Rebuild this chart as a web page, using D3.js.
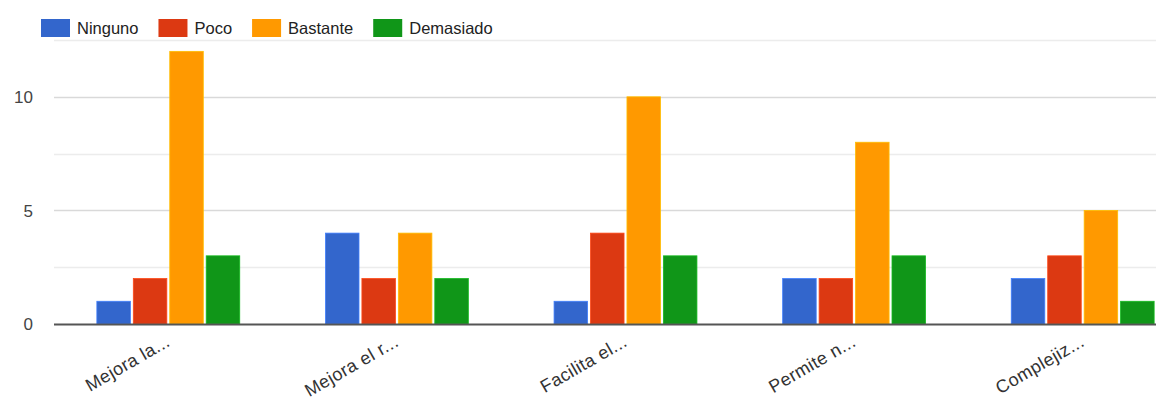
<!DOCTYPE html>
<html>
<head>
<meta charset="utf-8">
<script src="https://cdn.jsdelivr.net/npm/d3@7"></script>
<style>
  body { margin: 0; background: #fff; }
  svg { display: block; font-family: "Liberation Sans", Arial, sans-serif; }
</style>
</head>
<body>
<div id="chart"></div>
<script>
const categories = ["Mejora la...", "Mejora el r...", "Facilita el...", "Permite n...", "Complejiz..."]
const series = ["Ninguno", "Poco", "Bastante", "Demasiado"]
const ninguno = [1, 4, 1, 2, 2]
const poco = [2, 2, 4, 2, 3]
const bastante = [12, 4, 10, 8, 5]
const demasiado = [3, 2, 3, 3, 1]
const colors = ["#3366cc", "#dc3912", "#ff9900", "#109618"]
const yTicks = [0, 5, 10]
const gridTicks = [2.5, 7.5, 12.5]

const width = 1156
const height = 400
const marginTop = 40        // top of plot area
const marginBottom = 76     // space for slanted labels
const marginLeft = 54
const plotRight = 1197      // last band runs past the right edge

const values = [ninguno, poco, bastante, demasiado]
const data = []
categories.forEach((c, i) => {
    series.forEach((s, j) => data.push({cat: c, key: s, value: values[j][i], color: colors[j]}))
})

const svg = d3.select("#chart").append("svg")
    .attr("width", width)
    .attr("height", height)
    .attr("viewBox", [0, 0, width, height])

const xScale = d3.scaleBand(categories, [marginLeft, plotRight])
const groupWidth = xScale.bandwidth() * 0.625
const xInner = d3.scaleBand(series, [0, groupWidth]).paddingInner(0.08)
const yScale = d3.scaleLinear([0, 12.5], [height - marginBottom, marginTop])

// gridlines
svg.append("g")
    .selectAll("line")
    .data(gridTicks.concat(yTicks.filter(d => d > 0)))
    .join("line")
    .attr("x1", marginLeft)
    .attr("x2", width)
    .attr("y1", d => Math.round(yScale(d)) + 0.5)
    .attr("y2", d => Math.round(yScale(d)) + 0.5)
    .attr("stroke", d => yTicks.includes(d) ? "#d9d9d9" : "#ececec")
    .attr("stroke-width", 1.5)

// y axis labels
svg.append("g")
    .attr("font-size", 17)
    .attr("fill", "#444")
    .attr("text-anchor", "end")
    .selectAll("text")
    .data(yTicks)
    .join("text")
    .attr("x", 33)
    .attr("y", d => yScale(d))
    .attr("dy", "0.36em")
    .text(d => d)

// bars
svg.append("g")
    .selectAll("rect")
    .data(data)
    .join("rect")
    .attr("x", d => xScale(d.cat) + (xScale.bandwidth() - groupWidth) / 2 + xInner(d.key))
    .attr("y", d => yScale(d.value))
    .attr("width", xInner.bandwidth())
    .attr("height", d => yScale(0) - yScale(d.value))
    .attr("fill", d => d.color)
    .attr("stroke", d => d3.color(d.color).brighter(0.6))
    .attr("stroke-width", 0.8)

// baseline
svg.append("line")
    .attr("x1", marginLeft)
    .attr("x2", width)
    .attr("y1", yScale(0) + 0.5)
    .attr("y2", yScale(0) + 0.5)
    .attr("stroke", "#555")
    .attr("stroke-width", 2.2)

// slanted category labels
svg.append("g")
    .attr("font-size", 18)
    .attr("fill", "#333")
    .attr("text-anchor", "end")
    .attr("letter-spacing", 0.4)
    .selectAll("text")
    .data(categories)
    .join("text")
    .attr("transform", d => `translate(${xScale(d) + xScale.bandwidth() / 2 + 3},${yScale(0) + 21}) rotate(-30)`)
    .text(d => d)

// legend
const legend = svg.append("g").attr("font-size", 16.5).attr("fill", "#222")
let lx = 41
series.forEach((s, j) => {
    legend.append("rect")
        .attr("x", lx).attr("y", 19)
        .attr("width", 29).attr("height", 18)
        .attr("fill", colors[j])
    const t = legend.append("text")
        .attr("x", lx + 36).attr("y", 34)
        .text(s)
    lx += 36 + t.node().getComputedTextLength() + 20
})
</script>
</body>
</html>
